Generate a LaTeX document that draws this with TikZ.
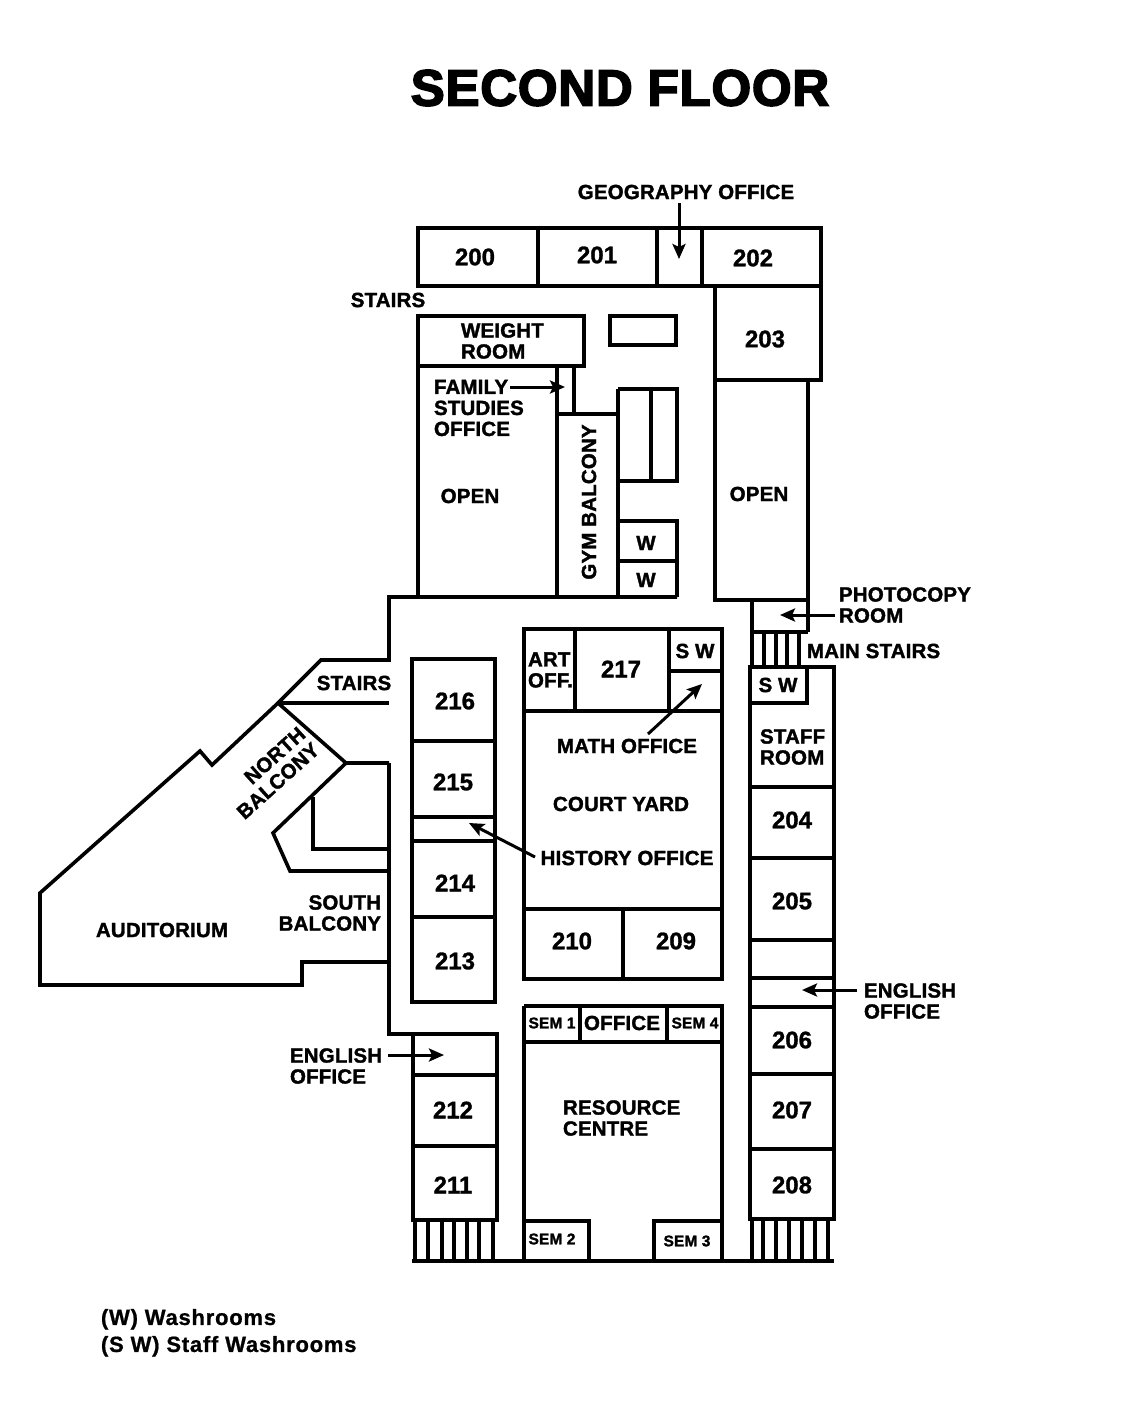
\documentclass[tikz,border=0pt]{standalone}
\usepackage{fontspec}
\usetikzlibrary{arrows.meta}
\newfontfamily\labfont[BoldFeatures={FakeBold=1.6,LetterSpace=0.8}]{Liberation Sans}
\newfontfamily\numfont[BoldFeatures={FakeBold=1.2}]{Liberation Sans}
\newfontfamily\legfont[BoldFeatures={FakeBold=0.9,LetterSpace=3.5}]{Liberation Sans}
\newfontfamily\titlefont[BoldFeatures={FakeBold=3.2,LetterSpace=1.5}]{Liberation Sans}
\tikzset{
  wall/.style={draw=black,line width=3.6pt,miter limit=10,fill=none},
  pointer/.style={draw=black,line width=3pt,-{Stealth[length=15pt,width=13pt,inset=3pt]}},
  lab/.style={inner sep=0pt,outer sep=0pt,text=black,align=left,font=\labfont\bfseries\fontsize{20.5}{21}\selectfont},
  num/.style={inner sep=0pt,outer sep=0pt,text=black,font=\numfont\bfseries\fontsize{24}{24}\selectfont},
  sem/.style={inner sep=0pt,outer sep=0pt,text=black,font=\labfont\bfseries\fontsize{15.5}{16}\selectfont},
  legend/.style={inner sep=0pt,outer sep=0pt,text=black,align=left,font=\legfont\bfseries\fontsize{22}{27}\selectfont},
  titletext/.style={inner sep=0pt,outer sep=0pt,text=black,font=\titlefont\bfseries\fontsize{51}{53}\selectfont},
}
\begin{document}
\begin{tikzpicture}[x=1pt,y=-1pt]
\useasboundingbox (0,0) rectangle (1138,1416);
\fill[white] (0,0) rectangle (1138,1416);

% --- top band
\draw[wall] (418,228) rectangle (821,286);
\draw[wall] (538,228) -- (538,286);
\draw[wall] (657,228) -- (657,286);
\draw[wall] (702,228) -- (702,286);
% 203 and east open
\draw[wall] (715,286) rectangle (821,380);
\draw[wall] (715,380) -- (715,600) -- (808,600) -- (808,380);
% photocopy and main stairs
\draw[wall] (752,600) -- (752,667);
\draw[wall] (752,632) -- (808,632);
\draw[wall] (808,600) -- (808,632);
\draw[wall] (764,632) -- (764,667);
\draw[wall] (776,632) -- (776,667);
\draw[wall] (787,632) -- (787,667);
\draw[wall] (799,632) -- (799,667);

% --- weight room, gym block
\draw[wall] (418,316) rectangle (584,366);
\draw[wall] (610,316) rectangle (676,345);
\draw[wall] (418,366) -- (418,597);
\draw[wall] (557,366) -- (557,597);
\draw[wall] (574,366) -- (574,414);
\draw[wall] (557,414) -- (618,414);
\draw[wall] (618,389) -- (618,597);
\draw[wall] (618,389) -- (677,389) -- (677,481) -- (618,481);
\draw[wall] (651,389) -- (651,481);
\draw[wall] (618,521) -- (677,521) -- (677,597);
\draw[wall] (618,561) -- (677,561);
% outer wall
\draw[wall] (677,597) -- (389,597) -- (389,660) -- (321,660) -- (278,703) -- (212,765) -- (200,751) -- (40,893) -- (40,985) -- (302,985) -- (302,962) -- (389,962);
\draw[wall] (278,703) -- (389,703);
\draw[wall] (278,703) -- (346,763) -- (389,763);
\draw[wall] (346,763) -- (273,833) -- (290,871) -- (389,871);
\draw[wall] (313,797) -- (313,849) -- (389,849);
\draw[wall] (389,763) -- (389,1034) -- (497,1034);

% --- west rooms
\draw[wall] (412,659) rectangle (495,1002);
\draw[wall] (412,741) -- (495,741);
\draw[wall] (412,817) -- (495,817);
\draw[wall] (412,841) -- (495,841);
\draw[wall] (412,917) -- (495,917);
\draw[wall] (413,1034) rectangle (497,1220);
\draw[wall] (413,1075) -- (497,1075);
\draw[wall] (413,1146) -- (497,1146);
% west stairs
\draw[wall] (415,1220) -- (415,1261);
\draw[wall] (428,1220) -- (428,1261);
\draw[wall] (442,1220) -- (442,1261);
\draw[wall] (454,1220) -- (454,1261);
\draw[wall] (467,1220) -- (467,1261);
\draw[wall] (479,1220) -- (479,1261);
\draw[wall] (493,1220) -- (493,1261);

% --- central block
\draw[wall] (524,629) rectangle (722,979);
\draw[wall] (575,629) -- (575,711);
\draw[wall] (669,629) -- (669,711);
\draw[wall] (669,671) -- (722,671);
\draw[wall] (524,711) -- (722,711);
\draw[wall] (524,909) -- (722,909);
\draw[wall] (623,909) -- (623,979);
% resource centre
\draw[wall] (524,1006) -- (722,1006) -- (722,1261);
\draw[wall] (524,1006) -- (524,1261);
\draw[wall] (524,1042) -- (722,1042);
\draw[wall] (580,1006) -- (580,1042);
\draw[wall] (667,1006) -- (667,1042);
\draw[wall] (524,1221) -- (589,1221) -- (589,1261);
\draw[wall] (722,1221) -- (654,1221) -- (654,1261);
\draw[wall] (412,1261) -- (834,1261);

% --- east rooms
\draw[wall] (750,667) rectangle (834,1219);
\draw[wall] (750,703) -- (807,703) -- (807,667);
\draw[wall] (750,787) -- (834,787);
\draw[wall] (750,858) -- (834,858);
\draw[wall] (750,940) -- (834,940);
\draw[wall] (750,978) -- (834,978);
\draw[wall] (750,1007) -- (834,1007);
\draw[wall] (750,1074) -- (834,1074);
\draw[wall] (750,1149) -- (834,1149);
% east stairs
\draw[wall] (752,1219) -- (752,1261);
\draw[wall] (763,1219) -- (763,1261);
\draw[wall] (776,1219) -- (776,1261);
\draw[wall] (789,1219) -- (789,1261);
\draw[wall] (802,1219) -- (802,1261);
\draw[wall] (815,1219) -- (815,1261);
\draw[wall] (828,1219) -- (828,1261);

% --- labels
\node[titletext] (title) at (620,88) {SECOND FLOOR};
\node[lab] (geo) at (686,192) {GEOGRAPHY OFFICE};
\node[num] (r200) at (475,257) {200};
\node[num] (r201) at (597,255) {201};
\node[num] (r202) at (753,258) {202};
\node[num] (r203) at (765,339) {203};
\node[lab] (stairsn) at (388,300) {STAIRS};
\node[lab,anchor=west] (weight) at (461,341) {WEIGHT\\ROOM};
\node[lab,anchor=west] (family) at (434,408) {FAMILY\\STUDIES\\OFFICE};
\node[lab] (openw) at (470,496) {OPEN};
\node[lab] (opene) at (759,494) {OPEN};
\node[lab,rotate=90] (gym) at (589,502) {GYM BALCONY};
\node[lab] (w1) at (646,543) {W};
\node[lab] (w2) at (646,580) {W};
\node[lab,anchor=west] (photo) at (839,605) {PHOTOCOPY\\ROOM};
\node[lab,anchor=west] (mainst) at (807,651) {MAIN STAIRS};
\node[lab] (sw1) at (695,651) {S W};
\node[lab] (sw2) at (778,685) {S W};
\node[lab,anchor=west] (art) at (528,670) {ART\\OFF.};
\node[num] (r217) at (621,669) {217};
\node[lab,anchor=west] (staff) at (760,747) {STAFF\\ROOM};
\node[num] (r204) at (792,820) {204};
\node[num] (r205) at (792,901) {205};
\node[lab] (math) at (627,746) {MATH OFFICE};
\node[lab] (court) at (621,804) {COURT YARD};
\node[lab] (hist) at (627,858) {HISTORY OFFICE};
\node[num] (r210) at (572,941) {210};
\node[num] (r209) at (676,941) {209};
\node[lab,anchor=west] (enge) at (864,1001) {ENGLISH\\OFFICE};
\node[num] (r206) at (792,1040) {206};
\node[num] (r207) at (792,1110) {207};
\node[num] (r208) at (792,1185) {208};
\node[sem] (s1) at (552,1023) {SEM 1};
\node[lab] (off) at (622,1023) {OFFICE};
\node[sem] (s4) at (695,1023) {SEM 4};
\node[lab,anchor=west] (res) at (563,1118) {RESOURCE\\CENTRE};
\node[sem] (s2) at (552,1239) {SEM 2};
\node[sem] (s3) at (687,1241) {SEM 3};
\node[num] (r212) at (453,1110) {212};
\node[num] (r211) at (453,1185) {211};
\node[lab,anchor=west] (engw) at (290,1066) {ENGLISH\\OFFICE};
\node[num] (r216) at (455,701) {216};
\node[num] (r215) at (453,782) {215};
\node[num] (r214) at (455,883) {214};
\node[num] (r213) at (455,961) {213};
\node[lab] (stairsw) at (354,683) {STAIRS};
\node[lab] (aud) at (162,930) {AUDITORIUM};
\node[lab,anchor=east,align=right] (south) at (381,913) {SOUTH\\BALCONY};
\node[lab,align=right,rotate=42] (north) at (271,773) {NORTH\\BALCONY};
\node[legend,anchor=north west] (leg) at (101,1309) {(W) Washrooms\\(S W) Staff Washrooms};

% --- arrows
\coordinate (ageo0) at (679,203);   \coordinate (ageo1) at (679,259);
\coordinate (afam0) at (510,387);   \coordinate (afam1) at (565,387);
\coordinate (apho0) at (835,615);   \coordinate (apho1) at (780,615);
\coordinate (amat0) at (648,734);   \coordinate (amat1) at (702,684);
\coordinate (ahis0) at (535,857);   \coordinate (ahis1) at (469,823);
\coordinate (aene0) at (857,990);   \coordinate (aene1) at (802,990);
\coordinate (aenw0) at (388,1055);  \coordinate (aenw1) at (444,1055);
\draw[pointer] (ageo0) -- (ageo1);
\draw[pointer] (afam0) -- (afam1);
\draw[pointer] (apho0) -- (apho1);
\draw[pointer] (amat0) -- (amat1);
\draw[pointer] (ahis0) -- (ahis1);
\draw[pointer] (aene0) -- (aene1);
\draw[pointer] (aenw0) -- (aenw1);
\end{tikzpicture}
\end{document}
